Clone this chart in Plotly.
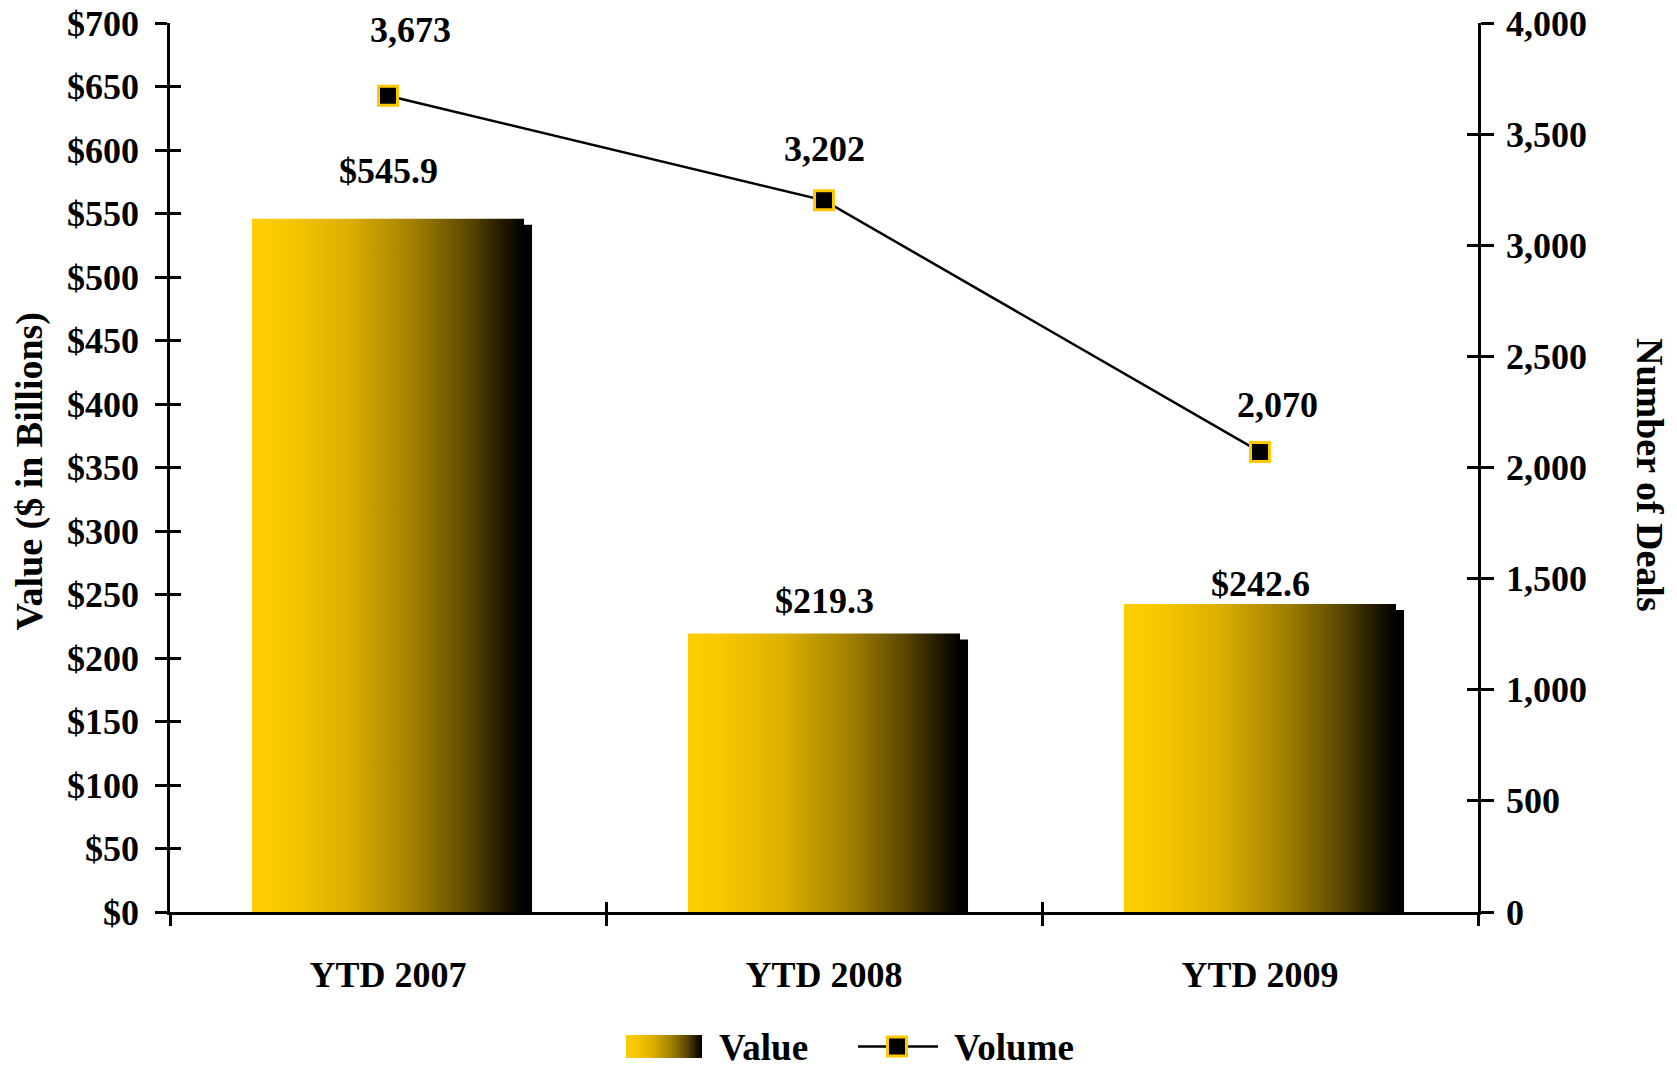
import plotly.graph_objects as go

# ---------------- data ----------------
categories = ["YTD 2007", "YTD 2008", "YTD 2009"]
value_bn = [545.9, 219.3, 242.6]
volume_deals = [3673, 3202, 2070]
value_labels = ["$545.9", "$219.3", "$242.6"]
volume_labels = ["3,673", "3,202", "2,070"]
y1_ticks = list(range(0, 701, 50))
y1_ticktext = ["$" + str(v) for v in y1_ticks]
y2_ticks = list(range(0, 4001, 500))
y2_ticktext = [f"{v:,}" for v in y2_ticks]
sep_ticks = [-0.5, 0.5, 1.5, 2.5]
legend_names = ["Value", "Volume"]

# ---------------- layout constants (page pixels) ----------------
W, H = 1677, 1065
OFF = 8                         # browser body margin
PLOT_L, PLOT_R = 170, 1478      # page x of plot area
PLOT_T, PLOT_B = 23, 912        # page y of plot area
L = PLOT_L - OFF
T = PLOT_T - OFF
AREA_W = PLOT_R - PLOT_L
R = W - L - AREA_W
AREA_BOTTOM = 1063              # page y of bottom of the full plotting area
B = H - (AREA_BOTTOM - OFF)
AREA_H = AREA_BOTTOM - PLOT_T


def px(xpage):
    return (xpage - PLOT_L) / AREA_W


def py(ypage):
    return (AREA_BOTTOM - ypage) / AREA_H


XR = [-0.5, 2.5]
Y1R = [0, 700]
Y2R = [0, 4000]
MAIN_DOM = [py(PLOT_B), 1.0]
px_x = AREA_W / (XR[1] - XR[0])
px_y = (PLOT_B - PLOT_T) / (Y1R[1] - Y1R[0])
HW = 0.312                 # half bar width (x units)
SDX = 8 / px_x             # shadow offset
SDY = 6 / px_y

FONT = "Liberation Serif"
grad = [[0.0, "#FFCC00"], [0.1, "#FBC900"], [0.35, "#DDB000"],
        [0.6, "#A07F00"], [0.8, "#5A4700"], [0.92, "#221A00"], [1.0, "#000000"]]

fig = go.Figure()

# shadows
for i, v in enumerate(value_bn):
    fig.add_trace(go.Scatter(
        x=[i - HW + SDX, i + HW + SDX, i + HW + SDX, i - HW + SDX, i - HW + SDX],
        y=[0, 0, v - SDY, v - SDY, 0],
        mode="lines", line=dict(width=0), fill="toself", fillcolor="#000000",
        showlegend=False, hoverinfo="skip", xaxis="x", yaxis="y"))

# gradient bars
for i, v in enumerate(value_bn):
    fig.add_trace(go.Scatter(
        x=[i - HW, i + HW, i + HW, i - HW, i - HW],
        y=[0, 0, v, v, 0],
        mode="lines", line=dict(width=0), fill="toself",
        fillgradient=dict(type="horizontal", colorscale=grad),
        name="Value", showlegend=False,
        hovertemplate=categories[i] + ": " + value_labels[i] + "<extra></extra>",
        xaxis="x", yaxis="y"))

# volume line
MARKER = dict(symbol="square", size=19, color="#000000", line=dict(color="#FFC800", width=3))
fig.add_trace(go.Scatter(
    x=list(range(len(categories))), y=volume_deals, name="Volume",
    mode="lines+markers", line=dict(color="#000000", width=2.5),
    marker=MARKER, showlegend=False, xaxis="x", yaxis="y2"))

# dummy traces so that the tick-crossing overlay axes are drawn
fig.add_trace(go.Scatter(x=[0], y=[0], mode="markers", marker=dict(opacity=0),
                         hoverinfo="skip", showlegend=False, xaxis="x3", yaxis="y3"))
fig.add_trace(go.Scatter(x=[0], y=[0], mode="markers", marker=dict(opacity=0),
                         hoverinfo="skip", showlegend=False, xaxis="x4", yaxis="y4"))

# manual legend keys (legend axis measured in page px)
LEG_X = [626, 940]
fig.add_trace(go.Scatter(x=[626, 702, 702, 626, 626], y=[0, 0, 1, 1, 0],
                         mode="lines", line=dict(width=0), fill="toself",
                         fillgradient=dict(type="horizontal", colorscale=grad),
                         hoverinfo="skip", showlegend=False, xaxis="x5", yaxis="y5"))
fig.add_trace(go.Scatter(x=[858, 938], y=[0.5, 0.5], mode="lines",
                         line=dict(color="#000000", width=2.5),
                         hoverinfo="skip", showlegend=False, xaxis="x5", yaxis="y5"))
fig.add_trace(go.Scatter(x=[897], y=[0.5], mode="markers", marker=MARKER, cliponaxis=False,
                         hoverinfo="skip", showlegend=False, xaxis="x5", yaxis="y5"))

bold = lambda s: dict(family=FONT, size=s, color="#000", weight="bold")

annotations = []
bar_yshift = [48, 32, 20]
for i, (v, t) in enumerate(zip(value_bn, value_labels)):
    annotations.append(dict(x=i, y=v, xref="x", yref="y", text=t, showarrow=False,
                            yshift=bar_yshift[i], font=bold(36)))
vol_yshift = [66, 51, 47]
vol_xshift = [22, 0, 17]
for i, (v, t) in enumerate(zip(volume_deals, volume_labels)):
    annotations.append(dict(x=i, y=v, xref="x", yref="y2", text=t, showarrow=False,
                            yshift=vol_yshift[i], xshift=vol_xshift[i], font=bold(36)))
annotations.append(dict(x=px(29), y=py(471.5), xref="paper", yref="paper",
                        text="Value ($ in Billions)", textangle=-90, showarrow=False,
                        xanchor="center", yanchor="middle", font=bold(38)))
annotations.append(dict(x=px(1650), y=py(475), xref="paper", yref="paper",
                        text="Number of Deals", textangle=90, showarrow=False,
                        xanchor="center", yanchor="middle", font=bold(38)))
annotations.append(dict(x=px(717), y=py(1047), xref="paper", yref="paper",
                        text=legend_names[0], showarrow=False,
                        xanchor="left", yanchor="middle", font=bold(37)))
annotations.append(dict(x=px(952), y=py(1047), xref="paper", yref="paper",
                        text=legend_names[1], showarrow=False,
                        xanchor="left", yanchor="middle", font=bold(37)))

ac = dict(showgrid=False, zeroline=False, fixedrange=True)
tk = dict(tickwidth=2.5, tickcolor="#000")

fig.update_layout(
    width=W, height=H,
    margin=dict(l=L, r=R, t=T, b=B, autoexpand=False),
    paper_bgcolor="white", plot_bgcolor="white",
    font=dict(family=FONT, color="#000"),
    showlegend=False,
    xaxis=dict(range=XR, domain=[0, 1], anchor="y", tickvals=[0, 1, 2], ticktext=categories,
               ticks="", showline=True, linecolor="#000", linewidth=2.5,
               tickfont=bold(36), ticklabelstandoff=29, **ac),
    yaxis=dict(range=Y1R, domain=MAIN_DOM, anchor="x", tickvals=y1_ticks, ticktext=y1_ticktext,
               ticks="outside", ticklen=12, showline=True, linecolor="#000", linewidth=2.5,
               tickfont=bold(36), ticklabelstandoff=9, ticklabeloverflow="allow",
               **tk, **ac),
    yaxis2=dict(range=Y2R, domain=MAIN_DOM, overlaying="y", anchor="x", side="right",
                tickvals=y2_ticks, ticktext=y2_ticktext,
                ticks="outside", ticklen=13, showline=True, linecolor="#000", linewidth=2.5,
                tickfont=bold(36), ticklabelstandoff=5, ticklabeloverflow="allow",
                **tk, **ac),
    xaxis3=dict(range=XR, domain=[0, 1], overlaying="x", anchor="y3", side="bottom",
                tickvals=sep_ticks, ticks="outside", ticklen=13,
                showticklabels=False, showline=False, **tk, **ac),
    yaxis3=dict(range=Y1R, domain=MAIN_DOM, overlaying="y", anchor="x3", side="left",
                tickvals=y1_ticks, ticks="inside", ticklen=11,
                showticklabels=False, showline=False, **tk, **ac),
    xaxis4=dict(range=XR, domain=[0, 1], overlaying="x", anchor="y4", side="bottom",
                tickvals=sep_ticks, ticks="inside", ticklen=10,
                showticklabels=False, showline=False, **tk, **ac),
    yaxis4=dict(range=Y2R, domain=MAIN_DOM, overlaying="y", anchor="x4", side="right",
                tickvals=y2_ticks, ticks="inside", ticklen=11,
                showticklabels=False, showline=False, **tk, **ac),
    xaxis5=dict(range=LEG_X, domain=[px(LEG_X[0]), px(LEG_X[1])], anchor="y5",
                visible=False, **ac),
    yaxis5=dict(range=[0, 1], domain=[py(1058), py(1035)], anchor="x5",
                visible=False, **ac),
    annotations=annotations,
)

fig.write_html("out.html")
